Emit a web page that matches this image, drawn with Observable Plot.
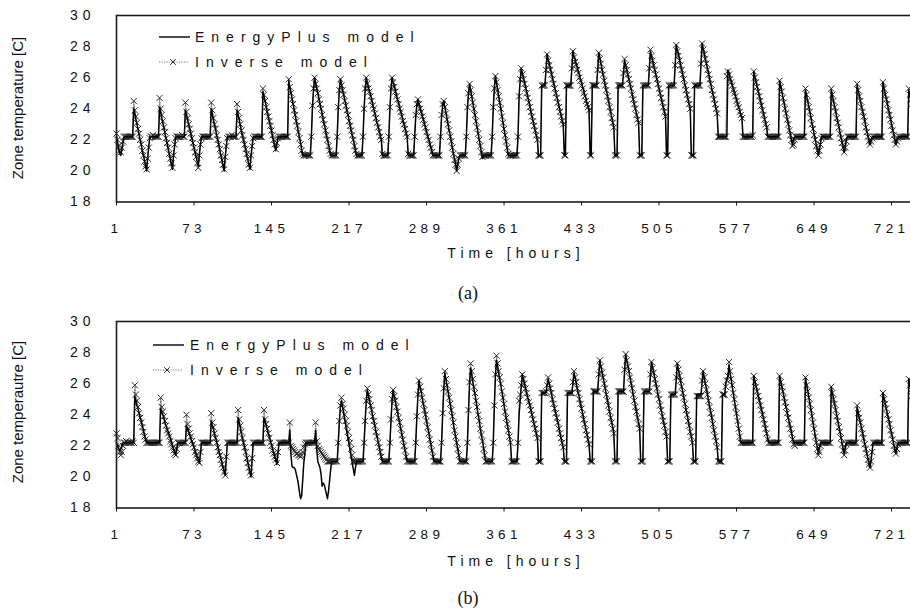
<!DOCTYPE html>
<html><head><meta charset="utf-8">
<script src="https://cdn.jsdelivr.net/npm/d3@7"></script>
<script src="https://cdn.jsdelivr.net/npm/@observablehq/plot@0.6"></script>
<style>
body{margin:0;background:#fff;}
#wrap{position:relative;width:910px;height:609px;overflow:hidden;background:#fff;}
.panel{position:absolute;left:0;width:910px;height:270px;overflow:hidden;}
.panel svg g[aria-label="x-axis tick label"] text{letter-spacing:4.3px;}
.panel svg g[aria-label="y-axis tick label"] text{letter-spacing:5px;}
#overlay{position:absolute;left:0;top:0;pointer-events:none;}
</style>
</head><body>
<div id="wrap">
  <div class="panel" id="pa" style="top:0px"></div>
  <div class="panel" id="pb" style="top:306px"></div>
</div>
<script>
// ---- axis ticks ----
const xTicks = [1,73,145,217,289,361,433,505,577,649,721];
const yTicks = [18,20,22,24,26,28,30];
const seriesNames = ["EnergyPlus model","Inverse model"];
const yTitles = ["Zone temperature [C]","Zone temperautre [C]"];
const xTitle = "Time [hours]";
const captions = ["(a)","(b)"];

// ---- panel (a): hourly zone temperature, one row per day (24 h) ----
const epA = [
[22.2,21.8,21.4,21.1,21.0,21.4,21.8,22.2,22.2,22.2,22.2,22.2,22.2,22.2,22.2,22.2,24.0,23.7,23.3,23.0,22.7,22.3,22.0,21.7],
[21.3,21.0,20.7,20.3,20.0,20.9,21.6,22.2,22.2,22.2,22.2,22.2,22.2,22.2,22.2,22.2,24.1,23.8,23.4,23.1,22.8,22.4,22.1,21.8],
[21.4,21.1,20.8,20.4,20.1,21.0,21.6,22.2,22.2,22.2,22.2,22.2,22.2,22.2,22.2,22.2,23.9,23.6,23.3,23.0,22.7,22.4,22.1,21.8],
[21.5,21.2,20.9,20.6,20.3,21.1,21.7,22.2,22.2,22.2,22.2,22.2,22.2,22.2,22.2,22.2,24.0,23.7,23.3,23.0,22.7,22.3,22.0,21.7],
[21.3,21.0,20.7,20.3,20.0,20.9,21.6,22.2,22.2,22.2,22.2,22.2,22.2,22.2,22.2,22.2,23.9,23.6,23.3,22.9,22.6,22.3,22.0,21.7],
[21.4,21.0,20.7,20.4,20.1,21.0,21.6,22.2,22.2,22.2,22.2,22.2,22.2,22.2,22.2,22.2,25.1,24.8,24.5,24.2,23.8,23.5,23.2,22.9],
[22.6,22.2,21.9,21.6,21.3,21.7,22.2,22.2,22.2,22.2,22.2,22.2,22.2,22.2,22.2,22.2,25.8,25.4,25.1,24.7,24.3,24.0,23.6,23.2],
[22.9,22.5,22.1,21.8,21.4,21.0,21.0,21.0,21.0,21.0,21.0,21.0,21.0,22.2,24.0,25.2,26.0,25.7,25.3,25.0,24.7,24.3,24.0,23.7],
[23.3,23.0,22.7,22.3,22.0,21.7,21.3,21.0,21.0,21.0,21.0,21.0,21.0,22.2,24.0,25.2,25.9,25.6,25.2,24.9,24.6,24.3,23.9,23.6],
[23.3,23.0,22.6,22.3,22.0,21.7,21.3,21.0,21.0,21.0,21.0,21.0,21.0,22.2,24.0,25.2,26.0,25.7,25.4,25.1,24.9,24.6,24.3,24.0],
[23.7,23.4,23.1,22.9,22.6,22.3,22.0,21.0,21.0,21.0,21.0,21.0,21.0,22.2,24.0,25.3,26.0,25.7,25.5,25.2,24.9,24.6,24.4,24.1],
[23.8,23.6,23.3,23.0,22.8,22.5,22.2,21.0,21.0,21.0,21.0,21.0,21.0,22.2,23.5,24.2,24.6,24.3,24.1,23.8,23.6,23.3,23.1,22.8],
[22.5,22.3,22.0,21.8,21.5,21.3,21.0,21.0,21.0,21.0,21.0,21.0,21.0,22.2,23.5,24.2,24.5,24.1,23.8,23.4,23.0,22.6,22.3,21.9],
[21.5,21.1,20.8,20.4,20.0,20.4,20.8,21.0,21.0,21.0,21.0,21.0,21.0,22.2,24.0,25.0,25.6,25.2,24.8,24.4,24.0,23.6,23.2,22.8],
[22.4,22.0,21.6,21.2,20.8,21.0,21.0,21.0,21.0,21.0,21.0,21.0,21.0,22.2,24.0,25.3,26.1,25.7,25.3,24.8,24.4,24.0,23.6,23.1],
[22.7,22.3,21.9,21.4,21.0,21.0,21.0,21.0,21.0,21.0,21.0,21.0,21.0,22.2,24.8,25.8,26.6,26.3,26.0,25.7,25.4,25.1,24.8,24.5],
[24.2,23.8,23.5,23.2,22.9,22.6,22.3,22.0,21.0,21.0,21.0,25.5,25.5,25.5,25.5,26.5,27.5,27.2,26.9,26.6,26.3,26.0,25.7,25.4],
[25.1,24.8,24.5,24.2,23.9,23.6,23.3,23.0,21.0,21.0,25.5,25.5,25.5,25.5,25.5,26.6,27.7,27.4,27.2,26.9,26.7,26.4,26.2,25.9],
[25.7,25.4,25.2,24.9,24.7,24.4,24.2,23.9,21.0,21.0,25.5,25.5,25.5,25.5,25.5,26.5,27.6,27.3,26.9,26.6,26.2,25.9,25.5,25.2],
[24.9,24.5,24.2,23.8,23.5,23.1,22.8,21.0,21.0,21.0,25.5,25.5,25.5,25.5,25.5,26.3,27.1,26.8,26.5,26.2,25.9,25.6,25.3,25.0],
[24.6,24.3,24.0,23.7,23.4,23.1,21.0,21.0,21.0,25.5,25.5,25.5,25.5,25.5,25.5,26.6,27.7,27.4,27.1,26.8,26.5,26.2,25.9,25.6],
[25.3,25.0,24.7,24.4,24.1,23.8,23.5,21.0,21.0,25.5,25.5,25.5,25.5,25.5,25.5,26.8,28.1,27.8,27.5,27.2,26.8,26.5,26.2,25.9],
[25.6,25.3,24.9,24.6,24.3,24.0,21.0,21.0,21.0,25.5,25.5,25.5,25.5,25.5,25.5,26.9,28.2,27.9,27.6,27.2,26.9,26.6,26.3,25.9],
[25.6,25.3,25.0,24.7,24.3,24.0,23.7,22.2,22.2,22.2,22.2,22.2,22.2,22.2,22.2,22.2,26.5,26.3,26.0,25.8,25.5,25.3,25.1,24.8],
[24.6,24.3,24.1,23.9,23.6,23.4,22.2,22.2,22.2,22.2,22.2,22.2,22.2,22.2,22.2,22.2,26.4,26.1,25.8,25.5,25.2,24.9,24.6,24.3],
[24.0,23.7,23.4,23.1,22.8,22.2,22.2,22.2,22.2,22.2,22.2,22.2,22.2,22.2,22.2,22.2,25.8,25.5,25.1,24.8,24.4,24.1,23.7,23.4],
[23.1,22.7,22.4,22.0,21.7,22.0,22.2,22.2,22.2,22.2,22.2,22.2,22.2,22.2,22.2,22.2,25.2,24.9,24.5,24.2,23.8,23.5,23.1,22.8],
[22.4,22.1,21.7,21.4,21.0,21.4,21.8,22.2,22.2,22.2,22.2,22.2,22.2,22.2,22.2,22.2,25.2,24.9,24.5,24.2,23.9,23.5,23.2,22.9],
[22.5,22.2,21.9,21.5,21.2,21.6,22.0,22.2,22.2,22.2,22.2,22.2,22.2,22.2,22.2,22.2,25.5,25.2,24.9,24.5,24.2,23.9,23.6,23.3],
[22.9,22.6,22.3,22.0,21.7,22.0,22.2,22.2,22.2,22.2,22.2,22.2,22.2,22.2,22.2,22.2,25.7,25.4,25.0,24.7,24.4,24.0,23.7,23.4],
[23.0,22.7,22.4,22.0,21.7,22.0,22.2,22.2,22.2,22.2,22.2,22.2,22.2,22.2,22.2,22.2,25.2,24.9,24.6,24.3,24.0,23.7,23.4,23.1]
];
const invA = [
[22.4,22.0,21.6,21.3,21.2,21.5,21.9,22.2,22.2,22.2,22.2,22.2,22.2,22.2,22.2,22.2,24.5,23.9,23.5,23.1,22.7,22.4,22.0,21.7],
[21.3,21.0,20.6,20.3,20.1,20.8,21.5,22.1,22.2,22.2,22.3,22.2,22.2,22.2,22.2,22.2,24.7,24.0,23.6,23.2,22.8,22.5,22.1,21.8],
[21.5,21.1,20.8,20.5,20.2,21.0,21.7,22.1,22.2,22.2,22.2,22.2,22.2,22.3,22.2,22.2,24.4,23.8,23.4,23.0,22.7,22.4,22.1,21.8],
[21.5,21.2,20.9,20.5,20.2,21.0,21.7,22.1,22.2,22.2,22.2,22.2,22.2,22.2,22.2,22.2,24.4,23.9,23.4,23.0,22.7,22.3,22.0,21.7],
[21.4,21.0,20.7,20.4,20.1,20.9,21.6,22.1,22.2,22.2,22.2,22.3,22.2,22.2,22.2,22.2,24.3,23.8,23.4,23.0,22.6,22.3,22.0,21.7],
[21.4,21.1,20.8,20.4,20.2,21.0,21.6,22.1,22.2,22.2,22.2,22.2,22.2,22.2,22.2,22.2,25.3,24.9,24.5,24.1,23.8,23.5,23.2,22.9],
[22.6,22.3,22.0,21.7,21.4,21.8,22.1,22.2,22.2,22.2,22.2,22.2,22.2,22.2,22.2,22.2,25.9,25.4,25.0,24.6,24.3,23.9,23.6,23.2],
[22.9,22.5,22.1,21.7,21.3,21.1,21.0,21.0,21.0,21.0,21.0,21.0,21.0,22.2,24.2,25.3,26.0,25.6,25.3,25.0,24.6,24.3,24.0,23.6],
[23.3,23.0,22.6,22.3,22.0,21.6,21.3,21.1,21.0,21.0,21.0,21.0,21.0,22.2,24.1,25.2,25.9,25.5,25.2,24.9,24.5,24.2,23.9,23.6],
[23.2,22.9,22.6,22.3,22.0,21.6,21.3,21.1,21.0,21.0,21.0,21.0,21.0,22.2,24.0,25.3,26.0,25.6,25.3,25.1,24.8,24.5,24.2,24.0],
[23.7,23.4,23.1,22.8,22.5,22.2,22.0,21.1,21.0,21.0,21.0,21.0,21.0,22.2,24.1,25.3,26.0,25.7,25.4,25.1,24.8,24.6,24.3,24.0],
[23.8,23.5,23.2,23.0,22.7,22.4,22.2,21.1,21.0,21.0,21.0,21.0,21.0,22.2,23.6,24.3,24.6,24.3,24.0,23.8,23.5,23.3,23.0,22.8],
[22.5,22.2,22.0,21.7,21.5,21.2,21.0,21.0,21.0,21.0,21.0,21.0,21.0,22.2,23.6,24.3,24.5,24.1,23.7,23.3,23.0,22.6,22.2,21.9],
[21.5,21.1,20.7,20.4,20.0,20.4,20.8,21.0,21.0,21.0,21.0,21.0,21.0,22.2,24.1,25.0,25.6,25.2,24.8,24.4,24.0,23.6,23.2,22.8],
[22.4,22.0,21.6,21.2,20.9,21.0,21.0,21.0,21.0,21.0,21.0,21.0,21.0,22.2,24.1,25.3,26.1,25.7,25.2,24.8,24.4,24.0,23.5,23.1],
[22.7,22.3,21.9,21.5,21.1,21.0,21.0,21.0,21.0,21.0,21.0,21.0,21.0,22.2,24.8,25.9,26.6,26.2,25.9,25.6,25.3,25.0,24.7,24.4],
[24.1,23.8,23.5,23.2,22.9,22.6,22.3,22.0,21.0,21.0,21.0,25.5,25.5,25.5,25.5,26.5,27.5,27.1,26.8,26.5,26.2,25.9,25.6,25.3],
[25.0,24.7,24.4,24.1,23.8,23.5,23.2,23.0,21.0,21.0,25.5,25.5,25.5,25.5,25.5,26.6,27.7,27.3,27.0,26.8,26.5,26.3,26.0,25.8],
[25.5,25.3,25.0,24.8,24.5,24.3,24.1,23.9,21.0,21.0,25.5,25.5,25.5,25.5,25.5,26.5,27.6,27.2,26.9,26.5,26.2,25.8,25.5,25.2],
[24.8,24.5,24.1,23.8,23.4,23.1,22.8,21.0,21.0,21.0,25.5,25.5,25.5,25.5,25.5,26.3,27.2,26.8,26.5,26.2,25.9,25.6,25.3,24.9],
[24.6,24.3,24.0,23.6,23.3,23.1,21.0,21.0,21.0,25.5,25.5,25.5,25.5,25.5,25.5,26.6,27.8,27.4,27.1,26.8,26.5,26.2,25.9,25.6],
[25.3,25.0,24.7,24.4,24.1,23.8,23.5,21.0,21.0,25.5,25.5,25.5,25.5,25.5,25.5,26.8,28.1,27.7,27.4,27.1,26.8,26.5,26.2,25.9],
[25.5,25.2,24.9,24.6,24.3,24.0,21.0,21.0,21.0,25.5,25.5,25.5,25.5,25.5,25.5,26.9,28.2,27.8,27.5,27.2,26.9,26.5,26.2,25.9],
[25.6,25.2,24.9,24.6,24.3,24.0,23.7,22.2,22.2,22.2,22.2,22.2,22.2,22.2,22.2,26.1,26.4,26.2,25.9,25.7,25.5,25.2,25.0,24.8],
[24.5,24.3,24.1,23.8,23.6,23.4,22.2,22.2,22.2,22.2,22.2,22.2,22.2,22.2,22.2,22.3,26.4,26.0,25.7,25.4,25.1,24.8,24.5,24.2],
[23.9,23.6,23.3,23.0,22.8,22.2,22.2,22.2,22.2,22.2,22.2,22.2,22.2,22.2,22.2,22.2,25.8,25.4,25.1,24.7,24.4,24.0,23.7,23.3],
[23.0,22.6,22.3,22.0,21.6,21.7,22.0,22.2,22.2,22.2,22.2,22.2,22.2,22.2,22.2,22.2,25.3,24.9,24.5,24.1,23.8,23.4,23.0,22.7],
[22.3,22.0,21.6,21.3,21.0,21.3,21.7,22.1,22.2,22.2,22.2,22.2,22.2,22.2,22.2,22.2,25.3,24.9,24.5,24.1,23.8,23.4,23.1,22.8],
[22.4,22.1,21.8,21.5,21.2,21.5,21.9,22.2,22.2,22.2,22.2,22.2,22.2,22.2,22.2,22.2,25.6,25.2,24.8,24.5,24.1,23.8,23.5,23.2],
[22.8,22.5,22.2,21.9,21.7,21.9,22.1,22.2,22.2,22.2,22.2,22.2,22.2,22.2,22.2,22.2,25.7,25.3,24.9,24.6,24.3,23.9,23.6,23.3],
[22.9,22.6,22.3,22.0,21.7,21.9,22.1,22.2,22.2,22.2,22.2,22.2,22.2,22.2,22.2,22.2,25.3,24.9,24.6,24.3,24.0,23.6,23.3,23.0]
];

// ---- panel (b) ----
const epB = [
[22.2,22.0,21.8,21.7,21.8,22.0,22.2,22.2,22.2,22.2,22.2,22.2,22.2,22.2,22.2,22.2,22.2,25.2,24.9,24.6,24.4,24.1,23.8,23.6],
[23.3,23.0,22.7,22.5,22.2,22.2,22.2,22.2,22.2,22.2,22.2,22.2,22.2,22.2,22.2,22.2,22.2,24.4,24.2,24.0,23.8,23.5,23.3,23.1],
[22.9,22.7,22.5,22.3,22.0,21.8,21.6,21.4,21.8,22.2,22.2,22.2,22.2,22.2,22.2,22.2,22.2,23.3,23.1,22.9,22.7,22.5,22.3,22.1],
[21.9,21.7,21.5,21.3,21.1,20.9,21.5,22.2,22.2,22.2,22.2,22.2,22.2,22.2,22.2,22.2,23.6,23.3,23.1,22.8,22.5,22.3,22.0,21.7],
[21.4,21.2,20.9,20.6,20.4,20.1,21.2,22.2,22.2,22.2,22.2,22.2,22.2,22.2,22.2,22.2,22.2,23.8,23.5,23.2,22.8,22.5,22.2,21.9],
[21.6,21.3,20.9,20.6,20.3,20.0,21.1,22.2,22.2,22.2,22.2,22.2,22.2,22.2,22.2,22.2,22.2,23.8,23.6,23.3,23.1,22.8,22.6,22.3],
[22.1,21.8,21.6,21.3,21.1,20.8,21.5,22.2,22.2,22.2,22.2,22.2,22.2,22.2,22.2,22.2,22.2,23.0,21.5,20.7,20.6,20.6,20.5,20.2],
[19.9,19.5,19.0,18.6,18.8,19.8,20.9,21.5,22.2,22.2,22.2,22.2,22.2,22.2,22.2,22.2,22.2,23.0,21.8,21.0,20.8,20.6,20.2,19.4],
[19.6,19.5,19.2,18.9,18.6,19.1,19.8,20.5,21.0,21.0,21.0,21.0,21.0,21.0,22.2,23.5,24.5,24.9,24.5,24.1,23.7,23.3,22.9,22.5],
[22.1,21.7,21.3,20.9,20.5,20.1,20.6,21.0,21.0,21.0,21.0,21.0,21.0,21.0,22.2,23.6,24.8,25.6,25.3,24.9,24.6,24.3,23.9,23.6],
[23.3,22.9,22.6,22.3,22.0,21.6,21.3,21.0,21.0,21.0,21.0,21.0,21.0,21.0,22.2,23.6,24.9,25.6,25.2,24.9,24.5,24.2,23.8,23.5],
[23.1,22.8,22.4,22.1,21.7,21.4,21.0,21.0,21.0,21.0,21.0,21.0,21.0,21.0,22.2,23.8,25.2,26.2,25.8,25.5,25.1,24.7,24.4,24.0],
[23.6,23.2,22.9,22.5,22.1,21.7,21.4,21.0,21.0,21.0,21.0,21.0,21.0,21.0,22.2,24.0,25.6,26.7,26.3,25.9,25.5,25.1,24.7,24.3],
[23.9,23.4,23.0,22.6,22.2,21.8,21.4,21.0,21.0,21.0,21.0,21.0,21.0,21.0,22.2,24.2,26.0,27.0,26.6,26.1,25.7,25.3,24.9,24.4],
[24.0,23.6,23.1,22.7,22.3,21.9,21.4,21.0,21.0,21.0,21.0,21.0,21.0,21.0,22.2,24.5,26.5,27.5,27.1,26.7,26.3,25.9,25.5,25.1],
[24.6,24.2,23.8,23.4,23.0,22.6,22.2,21.0,21.0,21.0,21.0,21.0,21.0,22.2,24.0,24.9,25.8,26.6,26.3,26.0,25.7,25.4,25.1,24.9],
[24.6,24.3,24.0,23.7,23.4,23.1,22.8,22.5,21.0,21.0,21.0,25.4,25.4,25.4,25.4,25.4,25.9,26.3,26.0,25.7,25.4,25.0,24.7,24.4],
[24.1,23.8,23.5,23.2,22.8,22.5,22.2,21.9,21.0,21.0,21.0,25.4,25.4,25.4,25.4,25.4,26.0,26.7,26.4,26.1,25.7,25.4,25.1,24.7],
[24.4,24.1,23.7,23.4,23.1,22.8,22.4,22.1,21.0,21.0,21.0,25.5,25.5,25.5,25.5,25.5,26.5,27.5,27.1,26.8,26.4,26.1,25.7,25.3],
[25.0,24.6,24.2,23.9,23.5,23.2,22.8,21.0,21.0,21.0,25.5,25.5,25.5,25.5,25.5,25.5,26.8,27.9,27.5,27.2,26.8,26.4,26.1,25.7],
[25.3,24.9,24.6,24.2,23.8,23.5,23.1,21.0,21.0,21.0,25.5,25.5,25.5,25.5,25.5,25.5,26.5,27.4,27.1,26.7,26.4,26.0,25.7,25.3],
[25.0,24.7,24.3,24.0,23.6,23.3,23.0,22.6,21.0,21.0,21.0,25.3,25.3,25.3,25.3,25.3,26.3,27.3,26.9,26.6,26.2,25.8,25.5,25.1],
[24.7,24.4,24.0,23.7,23.3,22.9,22.6,22.2,21.0,21.0,21.0,25.3,25.3,25.3,25.3,25.3,26.1,26.8,26.4,26.0,25.7,25.3,24.9,24.5],
[24.2,23.8,23.4,23.0,22.7,22.3,21.9,21.0,21.0,21.0,21.0,25.3,25.3,25.3,26.0,26.3,26.4,27.2,26.7,26.3,25.8,25.4,24.9,24.5],
[24.0,23.6,23.1,22.7,22.2,22.2,22.2,22.2,22.2,22.2,22.2,22.2,22.2,22.2,22.2,22.2,26.5,26.2,25.9,25.6,25.3,25.0,24.7,24.4],
[24.1,23.8,23.5,23.1,22.8,22.5,22.2,22.2,22.2,22.2,22.2,22.2,22.2,22.2,22.2,22.2,26.5,26.2,25.8,25.5,25.2,24.8,24.5,24.2],
[23.8,23.5,23.2,22.9,22.5,22.2,22.2,22.2,22.2,22.2,22.2,22.2,22.2,22.2,22.2,22.2,26.4,26.0,25.6,25.2,24.8,24.4,24.0,23.5],
[23.1,22.7,22.3,21.9,21.5,21.9,22.2,22.2,22.2,22.2,22.2,22.2,22.2,22.2,22.2,22.2,25.8,25.4,25.1,24.7,24.4,24.0,23.6,23.3],
[22.9,22.6,22.2,21.8,21.5,21.9,22.2,22.2,22.2,22.2,22.2,22.2,22.2,22.2,22.2,22.2,24.5,24.2,23.8,23.5,23.2,22.9,22.5,22.2],
[21.9,21.5,21.2,20.9,20.6,21.1,21.7,22.2,22.2,22.2,22.2,22.2,22.2,22.2,22.2,22.2,25.4,25.1,24.8,24.4,24.1,23.8,23.5,23.1],
[22.8,22.5,22.1,21.8,21.5,21.9,22.2,22.2,22.2,22.2,22.2,22.2,22.2,22.2,22.2,22.2,26.3,26.0,25.6,25.3,24.9,24.6,24.2,23.9]
];
const invB = [
[22.8,22.5,22.0,21.6,21.4,21.6,22.0,22.2,22.2,22.3,22.2,22.2,22.2,22.2,22.2,22.3,22.2,25.9,25.3,24.9,24.5,24.1,23.8,23.5],
[23.2,22.9,22.6,22.4,22.2,22.2,22.2,22.2,22.2,22.2,22.2,22.2,22.2,22.2,22.2,22.2,22.2,25.1,24.5,24.2,23.9,23.6,23.3,23.0],
[22.8,22.6,22.3,22.1,21.9,21.7,21.5,21.4,21.8,22.2,22.2,22.2,22.2,22.2,22.2,22.2,22.2,24.0,23.4,23.1,22.8,22.6,22.3,22.1],
[21.9,21.6,21.4,21.2,21.0,20.9,21.6,22.2,22.2,22.2,22.2,22.2,22.2,22.2,22.2,22.2,24.1,23.5,23.2,22.8,22.5,22.2,21.9,21.6],
[21.4,21.1,20.8,20.6,20.3,20.1,21.3,22.2,22.2,22.2,22.2,22.2,22.2,22.2,22.2,22.2,22.2,24.3,23.7,23.3,22.9,22.5,22.2,21.9],
[21.6,21.2,20.9,20.6,20.3,20.1,21.2,22.2,22.2,22.2,22.2,22.2,22.2,22.2,22.2,22.2,22.2,24.3,23.7,23.4,23.1,22.8,22.5,22.2],
[22.0,21.7,21.5,21.3,21.1,20.9,21.6,22.2,22.2,22.2,22.2,22.2,22.2,22.2,22.2,22.2,22.2,23.5,22.0,21.9,21.8,21.7,21.6,21.5],
[21.5,21.4,21.4,21.3,21.4,21.6,21.9,22.1,22.2,22.2,22.2,22.2,22.2,22.2,22.2,22.2,22.2,23.5,22.3,22.0,21.8,21.7,21.6,21.5],
[21.4,21.3,21.2,21.1,21.0,21.0,21.0,21.0,21.0,21.0,21.0,21.0,21.0,21.0,22.2,23.6,24.6,25.1,24.7,24.4,24.0,23.6,23.3,22.9],
[22.5,22.2,21.8,21.4,21.0,21.0,21.0,21.0,21.0,21.0,21.0,21.0,21.0,21.0,22.2,23.6,24.9,25.7,25.3,25.0,24.6,24.3,23.9,23.6],
[23.3,22.9,22.6,22.2,21.9,21.6,21.3,21.0,21.0,21.0,21.0,21.0,21.0,21.0,22.2,23.7,25.0,25.6,25.2,24.9,24.5,24.2,23.8,23.5],
[23.1,22.7,22.4,22.0,21.7,21.3,21.0,21.0,21.0,21.0,21.0,21.0,21.0,21.0,22.2,23.9,25.3,26.2,25.8,25.5,25.1,24.7,24.3,24.0],
[23.6,23.2,22.8,22.4,22.1,21.7,21.3,21.0,21.0,21.0,21.0,21.0,21.0,21.0,22.2,24.1,25.7,26.8,26.3,25.9,25.5,25.1,24.7,24.3],
[23.9,23.5,23.0,22.6,22.2,21.8,21.4,21.0,21.0,21.0,21.0,21.0,21.0,21.0,22.2,24.3,26.1,27.3,26.8,26.3,25.8,25.4,24.9,24.5],
[24.0,23.6,23.1,22.7,22.3,21.8,21.4,21.0,21.0,21.0,21.0,21.0,21.0,21.0,22.2,24.6,26.6,27.8,27.3,26.8,26.4,26.0,25.5,25.1],
[24.7,24.2,23.8,23.4,23.0,22.6,22.2,21.0,21.0,21.0,21.0,21.0,21.0,22.2,24.9,25.3,25.9,26.6,26.3,26.0,25.7,25.4,25.1,24.8],
[24.6,24.3,24.0,23.7,23.4,23.1,22.8,22.5,21.0,21.0,21.0,25.4,25.4,25.4,25.4,25.5,25.9,26.4,26.0,25.7,25.4,25.0,24.7,24.4],
[24.1,23.8,23.5,23.1,22.8,22.5,22.2,21.9,21.0,21.0,21.0,25.4,25.4,25.4,25.4,25.4,26.1,26.8,26.4,26.1,25.7,25.4,25.0,24.7],
[24.4,24.0,23.7,23.4,23.0,22.7,22.4,22.1,21.0,21.0,21.0,25.5,25.5,25.5,25.5,25.5,26.6,27.5,27.1,26.7,26.4,26.0,25.7,25.3],
[24.9,24.6,24.2,23.8,23.5,23.1,22.8,21.0,21.0,21.0,25.5,25.5,25.5,25.5,25.5,25.5,26.9,27.9,27.5,27.1,26.8,26.4,26.0,25.7],
[25.3,24.9,24.5,24.2,23.8,23.4,23.1,21.0,21.0,21.0,25.5,25.5,25.5,25.5,25.5,25.5,26.6,27.4,27.0,26.7,26.3,26.0,25.7,25.3],
[25.0,24.6,24.3,23.9,23.6,23.3,22.9,22.6,21.0,21.0,21.0,25.3,25.3,25.3,25.3,25.3,26.4,27.3,26.9,26.5,26.2,25.8,25.4,25.1],
[24.7,24.3,24.0,23.6,23.3,22.9,22.6,22.2,21.0,21.0,21.0,25.2,25.2,25.2,25.2,25.2,26.2,26.8,26.4,26.0,25.6,25.3,24.9,24.5],
[24.1,23.8,23.4,23.0,22.6,22.3,21.9,21.0,21.0,21.0,21.0,25.3,25.3,25.3,25.8,26.2,26.5,27.4,26.8,26.3,25.9,25.4,25.0,24.5],
[24.1,23.6,23.1,22.6,22.2,22.2,22.2,22.2,22.2,22.2,22.2,22.2,22.2,22.2,22.2,22.2,26.5,26.1,25.8,25.5,25.2,24.9,24.6,24.3],
[24.0,23.7,23.4,23.1,22.8,22.4,22.2,22.2,22.2,22.2,22.2,22.2,22.2,22.2,22.2,22.2,26.5,26.1,25.8,25.5,25.1,24.8,24.5,24.1],
[23.8,23.4,23.1,22.8,22.4,22.1,22.0,22.2,22.2,22.2,22.2,22.2,22.2,22.2,22.2,22.2,26.4,25.9,25.5,25.1,24.7,24.3,23.9,23.5],
[23.1,22.6,22.2,21.8,21.4,21.6,22.0,22.2,22.2,22.2,22.2,22.2,22.2,22.2,22.2,22.2,25.8,25.4,25.0,24.7,24.3,23.9,23.6,23.2],
[22.9,22.5,22.1,21.7,21.4,21.7,22.1,22.2,22.2,22.2,22.2,22.2,22.2,22.2,22.2,22.2,24.6,24.1,23.8,23.5,23.1,22.8,22.5,22.1],
[21.8,21.5,21.1,20.8,20.6,21.0,21.6,22.2,22.2,22.2,22.2,22.2,22.2,22.2,22.2,22.2,25.4,25.0,24.7,24.4,24.0,23.7,23.4,23.0],
[22.7,22.4,22.0,21.7,21.5,21.8,22.1,22.2,22.2,22.2,22.2,22.2,22.2,22.2,22.2,22.2,26.3,25.9,25.6,25.2,24.9,24.5,24.2,23.8]
];

// ---- build ----
const warn = [];
[["epA",epA],["invA",invA],["epB",epB],["invB",invB]].forEach(([n,a]) => {
  if (a.length !== 31) warn.push(n + " days " + a.length);
  a.forEach((r,i) => { if (r.length !== 24) warn.push(n + " d" + (i+1) + ":" + r.length); });
});

const FONT = "Liberation Sans, Arial, sans-serif";

function makePanel(ep, inv) {
  const E = ep.flat(), I = inv.flat();
  const rows = E.map((v, i) => ({hour: i + 1, ep: v, inv: I[i]}));
  return Plot.plot({
    width: 910, height: 270,
    marginLeft: 116, marginRight: -5.8, marginTop: 15, marginBottom: 68.5,
    style: {fontFamily: FONT, fontSize: "14px", color: "#111", background: "transparent"},
    x: {domain: [1, 744]},
    y: {domain: [18, 30]},
    marks: [
      Plot.line(rows, {x: "hour", y: "inv", stroke: "#7a7a7a", strokeWidth: 1, strokeDasharray: "1.2,1.3"}),
      Plot.dot(rows, {x: "hour", y: "inv", symbol: "times", r: 2.9, stroke: "#2a2a2a", strokeWidth: 1}),
      Plot.line(rows, {x: "hour", y: "ep", stroke: "#000", strokeWidth: 1.5}),
      Plot.frame({stroke: "#1c1c1c", strokeWidth: 1.6}),
      Plot.axisX({ticks: xTicks, tickSize: 4, tickPadding: 17, tickFormat: d => String(d), label: null, dx: 0, fontSize: 13.5}),
      Plot.axisY({ticks: yTicks, tickSize: 0, tickPadding: 21, tickFormat: d => String(d), label: null, fontSize: 14})
    ]
  });
}

document.getElementById("pa").appendChild(makePanel(epA, invA));
document.getElementById("pb").appendChild(makePanel(epB, invB));

// ---- annotations (titles, legends, captions) ----
const NS = "http://www.w3.org/2000/svg";
const ov = document.createElementNS(NS, "svg");
ov.setAttribute("id", "overlay");
ov.setAttribute("width", 910); ov.setAttribute("height", 609);
document.getElementById("wrap").appendChild(ov);
function el(tag, attrs, text) {
  const e = document.createElementNS(NS, tag);
  for (const k in attrs) e.setAttribute(k, attrs[k]);
  if (text != null) e.textContent = text;
  ov.appendChild(e); return e;
}
const panels = [
  {ytitleY: 108, xtitleY: 253, capY: 293, legX: 159, legTx: 195, legY1: 37, legY2: 62},
  {ytitleY: 412, xtitleY: 561, capY: 598, legX: 153, legTx: 190, legY1: 345, legY2: 370}
];
panels.forEach((p, k) => {
  el("text", {x: 17, y: p.ytitleY, transform: `rotate(-90 17 ${p.ytitleY})`, "text-anchor": "middle",
    "dominant-baseline": "central", "font-family": FONT, "font-size": 15, fill: "#111"}, yTitles[k]);
  el("text", {x: 516, y: p.xtitleY, "text-anchor": "middle", "dominant-baseline": "central",
    "font-family": FONT, "font-size": 14, "letter-spacing": "5px", fill: "#111"}, xTitle);
  el("text", {x: 468, y: p.capY, "text-anchor": "middle", "dominant-baseline": "central",
    "font-family": "Liberation Serif, Times New Roman, serif", "font-size": 18, fill: "#111"}, captions[k]);
  // legend
  el("line", {x1: p.legX, x2: p.legX + 31, y1: p.legY1, y2: p.legY1, stroke: "#000", "stroke-width": 1.4});
  el("text", {x: p.legTx, y: p.legY1, "dominant-baseline": "central", "font-family": FONT, "font-size": 14,
    "letter-spacing": "7px", fill: "#111"}, seriesNames[0]);
  el("line", {x1: p.legX, x2: p.legX + 30, y1: p.legY2, y2: p.legY2, stroke: "#7a7a7a", "stroke-width": 1, "stroke-dasharray": "1.2,1.3"});
  const mx = p.legX + 14, my = p.legY2;
  el("path", {d: `M${mx-2.8},${my-2.8}L${mx+2.8},${my+2.8}M${mx-2.8},${my+2.8}L${mx+2.8},${my-2.8}`, stroke: "#2a2a2a", "stroke-width": 1, fill: "none"});
  el("text", {x: p.legTx, y: p.legY2, "dominant-baseline": "central", "font-family": FONT, "font-size": 14,
    "letter-spacing": "7px", fill: "#111"}, seriesNames[1]);
});
if (warn.length) el("text", {x: 600, y: 300, fill: "red", "font-size": 10}, warn.join(" | "));
</script>
</body></html>
